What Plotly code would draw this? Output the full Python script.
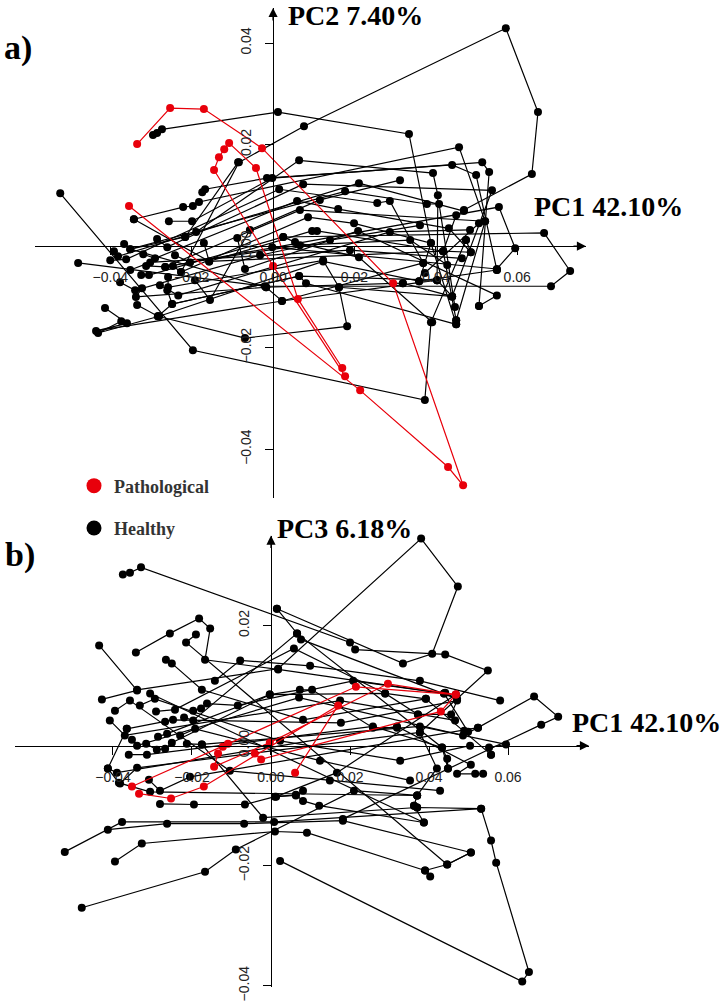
import plotly.graph_objects as go

# ---------------- Panel a) : PC1 vs PC2 ----------------
# Healthy trajectories (one subject per line, separated by None)
a_healthy_pc1 = [
    -0.0226, -0.0084, 0.0076, 0.0572, 0.0651, 0.0636, 0.0469, None,
    -0.0295, -0.0285, -0.0273, 0.0012, 0.0334, 0.0388, 0.0450, None,
    -0.0523, -0.0197, 0.0373, 0.0388, 0.0474, None,
    -0.0479, -0.0020, 0.0683, 0.0730, 0.0666, 0.0025, None,
    -0.0342, -0.0221, -0.0197, -0.0182, 0.0457, 0.0521, 0.0450, None,
    -0.0174, -0.0167, -0.0015, 0.0440, 0.0499, 0.0550, None,
    -0.0256, -0.0199, -0.0002, 0.0514, 0.0531, 0.0506, None,
    -0.0216, -0.0189, 0.0064, 0.0393, 0.0405, 0.0403, None,
    -0.0285, -0.0260, 0.0074, 0.0538, 0.0440, 0.0319, None,
    -0.0366, -0.0351, 0.0177, 0.0378, 0.0408, 0.0447, None,
    -0.0391, -0.0381, 0.0211, 0.0469, 0.0450, 0.0418, None,
    -0.0400, -0.0361, 0.0015, 0.0256, 0.0287, 0.0369, None,
    -0.0319, -0.0290, 0.0059, 0.0160, 0.0432, 0.0486, None,
    -0.0312, -0.0265, 0.0066, 0.0521, 0.0506, 0.0373, None,
    -0.0246, -0.0226, 0.0086, 0.0199, 0.0388, 0.0359, None,
    -0.0170, -0.0157, 0.0096, 0.0108, 0.0418, 0.0450, None,
    -0.0088, -0.0069, 0.0209, 0.0550, 0.0506, None,
    -0.0324, -0.0305, 0.0025, 0.0054, 0.0211, 0.0391, None,
    -0.0258, -0.0258, 0.0123, 0.0162, 0.0440, None,
    -0.0260, -0.0248, 0.0064, 0.0081, 0.0450, None,
    -0.0322, -0.0337, -0.0017, 0.0022, 0.0403, None,
    -0.0334, -0.0283, -0.0069, 0.0182, 0.0162, None,
    -0.0373, -0.0430, -0.0280, 0.0123, 0.0359, 0.0550, None,
    -0.0413, -0.0359, -0.0435, 0.0022, 0.0369, None,
    -0.0265, 0.0555, 0.0595, 0.0550, -0.0002, None,
    -0.0086, -0.0216, -0.0351, -0.0017, 0.0319, None,
    -0.0342, -0.0157, 0.0418, 0.0486, 0.0474, None,
    -0.0283, -0.0248, 0.0064, 0.0403, 0.0440, None,
    -0.0351, -0.0302, 0.0189, 0.0464, None,
    -0.0241, -0.0204, 0.0066, 0.0337, 0.0428, None,
    -0.0278, -0.0233, 0.0287, 0.0484, None,
    -0.0376, -0.0339, -0.0032, 0.0140, 0.0361, None,
    -0.0192, -0.0155, -0.0057, 0.0115, 0.0312,
]
a_healthy_pc2 = [
    -0.0051, 0.0165, 0.0236, 0.0429, 0.0264, 0.0142, 0.0071, None,
    0.0219, 0.0223, 0.0230, 0.0264, 0.0221, 0.0006, -0.0154, None,
    0.0104, -0.0205, -0.0303, -0.0150, 0.0012, None,
    -0.0033, -0.0079, -0.0079, -0.0049, 0.0026, 0.0018, None,
    0.0053, 0.0077, 0.0079, 0.0087, 0.0195, 0.0049, -0.0146, None,
    0.0106, 0.0112, 0.0134, 0.0160, 0.0140, -0.0047, None,
    0.0049, 0.0049, 0.0134, 0.0165, 0.0146, -0.0118, None,
    0.0018, 0.0028, 0.0169, 0.0144, 0.0100, -0.0067, None,
    0.0014, -0.0002, 0.0122, 0.0110, -0.0099, -0.0073, None,
    0.0004, -0.0006, 0.0108, 0.0083, 0.0083, -0.0120, None,
    -0.0010, -0.0020, 0.0124, 0.0069, 0.0061, -0.0010, None,
    -0.0028, -0.0026, 0.0112, 0.0085, 0.0089, -0.0033, None,
    -0.0016, -0.0024, 0.0089, 0.0073, 0.0035, -0.0012, None,
    -0.0039, -0.0041, 0.0071, 0.0049, 0.0045, -0.0053, None,
    -0.0039, -0.0051, 0.0057, 0.0045, 0.0006, -0.0069, None,
    0.0006, -0.0030, 0.0030, 0.0030, -0.0010, -0.0146, None,
    0.0016, -0.0045, 0.0030, -0.0097, -0.0118, None,
    -0.0057, -0.0057, 0.0018, 0.0008, -0.0022, -0.0150, None,
    -0.0061, -0.0081, -0.0028, -0.0081, -0.0099, None,
    -0.0087, -0.0114, -0.0059, -0.0073, -0.0154, None,
    -0.0083, -0.0100, -0.0081, -0.0108, -0.0067, None,
    -0.0116, -0.0138, -0.0181, -0.0158, -0.0081, None,
    -0.0148, -0.0171, -0.0138, -0.0030, -0.0069, -0.0047, None,
    -0.0122, -0.0152, -0.0167, -0.0108, -0.0033, None,
    -0.0041, 0.0077, -0.0004, -0.0045, -0.0002, None,
    0.0165, 0.0018, -0.0006, -0.0081, -0.0073, None,
    0.0053, -0.0030, -0.0010, -0.0012, 0.0012, None,
    -0.0138, -0.0114, -0.0059, -0.0067, -0.0099, None,
    -0.0047, -0.0032, -0.0008, -0.0024, None,
    -0.0018, -0.0032, 0.0002, 0.0012, -0.0037, None,
    -0.0077, -0.0097, 0.0028, 0.0032, None,
    -0.0071, -0.0087, -0.0018, 0.0012, 0.0041, None,
    -0.0067, -0.0106, 0.0032, 0.0091, 0.0130,
]
# Pathological trajectories
a_patho_pc1 = [
    -0.0334, -0.0253, -0.0170, -0.0027, 0.0295, 0.0467, 0.0430, 0.0214, -0.0354, None,
    0.0177, 0.0000, -0.0145, -0.0133, -0.0120, -0.0108, -0.0042, 0.0061, 0.0170,
]
a_patho_pc2 = [
    0.0201, 0.0272, 0.0270, 0.0193, -0.0073, -0.0471, -0.0435, -0.0284, 0.0079, None,
    -0.0256, -0.0039, 0.0150, 0.0175, 0.0191, 0.0203, 0.0154, -0.0104, -0.0240,
]

# ---------------- Panel b) : PC1 vs PC3 ----------------
b_healthy_pc1 = [
    -0.0339, 0.0018, 0.0380, 0.0473, 0.0408, 0.0334, 0.0015, None,
    -0.0375, -0.0357, -0.0329, 0.0200, 0.0213, 0.0441, 0.0549, 0.0377, None,
    -0.0342, -0.0256, -0.0182, -0.0154, -0.0167, 0.0018, 0.0438, None,
    -0.0435, -0.0339, -0.0428, None,
    -0.0266, -0.0251, -0.0175, 0.0081, 0.0392, None,
    -0.0365, -0.0268, -0.0248, 0.0177, 0.0471, 0.0456, 0.0372, None,
    -0.0220, -0.0197, 0.0066, 0.0076, 0.0471, 0.0441, None,
    -0.0291, -0.0243, 0.0058, 0.0289, 0.0392, 0.0557, None,
    -0.0197, -0.0177, -0.0162, -0.0084, 0.0208, 0.0438, 0.0499, None,
    -0.0286, -0.0263, -0.0003, 0.0073, 0.0104, 0.0258, 0.0319, None,
    -0.0352, -0.0339, 0.0071, 0.0486, 0.0524, 0.0666, 0.0727, 0.0684, 0.0182, None,
    -0.0316, -0.0289, -0.0268, -0.0251, -0.0003, 0.0289, 0.0372, None,
    -0.0213, -0.0175, 0.0377, 0.0595, 0.0552, 0.0557, None,
    -0.0360, -0.0314, 0.0258, 0.0433, 0.0446, 0.0448, None,
    -0.0413, -0.0390, 0.0319, 0.0506, 0.0471, 0.0517, 0.0537, None,
    -0.0382, -0.0339, 0.0377, 0.0420, 0.0370, None,
    -0.0309, -0.0281, -0.0205, 0.0489, 0.0524, None,
    -0.0365, -0.0413, -0.0385, -0.0306, 0.0370, 0.0362, 0.0370, None,
    -0.0281, -0.0195, -0.0066, 0.0010, 0.0063, 0.0081, 0.0122, 0.0387, None,
    -0.0522, -0.0377, 0.0008, 0.0532, 0.0557, 0.0570, 0.0653, 0.0636, 0.0023, None,
    -0.0413, -0.0263, -0.0068, 0.0182, 0.0506, 0.0446, 0.0390, 0.0403, None,
    -0.0395, -0.0327, 0.0010, 0.0091, 0.0390, None,
    -0.0479, -0.0167, -0.0089, 0.0210, 0.0370, None,
    0.0015, 0.0066, 0.0433, 0.0448, None,
    -0.0190, -0.0215, 0.0446, 0.0506, None,
    -0.0306, 0.0387, 0.0362, None,
    0.0081, 0.0063, 0.0013, 0.0167, 0.0468, None,
    -0.0175, -0.0020, 0.0370, 0.0532, None,
    -0.0408, -0.0370, 0.0175, 0.0466, None,
    -0.0332, -0.0294, 0.0023, 0.0327, 0.0504, None,
    -0.0230, -0.0192, 0.0124, 0.0352, None,
    -0.0395, -0.0357, -0.0104, 0.0149, 0.0428, None,
    -0.0142, -0.0078, 0.0099, 0.0377, 0.0580,
]
b_healthy_pc3 = [
    0.0093, 0.0128, 0.0345, 0.0265, 0.0153, 0.0137, 0.0228, None,
    0.0285, 0.0288, 0.0297, 0.0172, 0.0160, 0.0152, 0.0125, 0.0022, None,
    0.0155, 0.0187, 0.0212, 0.0195, 0.0143, 0.0127, 0.0087, None,
    0.0167, 0.0092, 0.0077, None,
    0.0143, 0.0137, 0.0093, 0.0043, 0.0078, None,
    0.0028, 0.0040, 0.0043, 0.0038, 0.0075, 0.0052, 0.0052, None,
    0.0047, 0.0042, 0.0187, 0.0177, 0.0078, 0.0088, None,
    0.0057, 0.0060, 0.0162, 0.0087, 0.0078, -0.0015, None,
    0.0058, 0.0062, 0.0070, 0.0067, 0.0108, 0.0087, 0.0023, None,
    0.0015, 0.0020, 0.0085, 0.0093, 0.0093, 0.0030, 0.0030, None,
    0.0010, 0.0000, 0.0080, 0.0017, 0.0030, 0.0082, 0.0048, 0.0035, -0.0122, None,
    0.0003, -0.0007, -0.0005, 0.0005, 0.0085, 0.0087, 0.0052, None,
    0.0003, 0.0002, 0.0032, 0.0002, -0.0003, -0.0015, None,
    -0.0015, -0.0015, 0.0032, -0.0003, -0.0022, -0.0038, None,
    -0.0038, -0.0045, 0.0032, -0.0032, -0.0047, -0.0047, -0.0047, None,
    -0.0063, -0.0037, 0.0022, -0.0038, -0.0083, None,
    -0.0057, -0.0075, -0.0052, 0.0025, 0.0030, None,
    0.0028, -0.0038, -0.0062, -0.0077, -0.0083, -0.0100, -0.0103, None,
    -0.0097, -0.0098, -0.0098, -0.0085, -0.0082, -0.0092, -0.0100, -0.0128, None,
    -0.0177, -0.0127, -0.0127, -0.0105, -0.0158, -0.0195, -0.0377, -0.0393, -0.0192, None,
    -0.0140, -0.0130, -0.0130, -0.0125, -0.0178, -0.0198, -0.0208, -0.0218, None,
    -0.0193, -0.0163, -0.0143, -0.0145, -0.0208, None,
    -0.0270, -0.0210, -0.0173, -0.0075, -0.0083, None,
    0.0228, 0.0187, -0.0003, -0.0038, None,
    0.0185, 0.0172, -0.0198, -0.0178, None,
    0.0087, -0.0128, -0.0100, None,
    -0.0075, -0.0083, -0.0085, -0.0045, 0.0085, None,
    0.0002, -0.0120, -0.0103, -0.0105, None,
    0.0042, 0.0017, 0.0075, 0.0042, None,
    0.0067, 0.0078, 0.0008, -0.0025, 0.0000, None,
    0.0017, 0.0028, -0.0025, -0.0058, None,
    0.0058, 0.0075, -0.0042, -0.0058, -0.0075, None,
    0.0108, 0.0142, 0.0133, 0.0108, 0.0075,
]
b_patho_pc1 = [
    -0.0352, -0.0122, -0.0109, 0.0215, 0.0468, 0.0430, -0.0025, -0.0041, None,
    -0.0334, -0.0253, -0.0170, 0.0170, 0.0061, None,
    -0.0134, -0.0144, -0.0003, 0.0296, 0.0468,
]
b_patho_pc3 = [
    -0.0068, -0.0002, 0.0003, 0.0098, 0.0085, 0.0057, -0.0023, -0.0013, None,
    -0.0080, -0.0088, -0.0068, 0.0067, -0.0045, None,
    -0.0013, -0.0035, 0.0005, 0.0103, 0.0085,
]

tick_vals_x = [-0.04, -0.02, 0.0, 0.02, 0.04, 0.06]
tick_vals_ya = [-0.04, -0.02, 0.0, 0.02, 0.04]
tick_vals_yb = [-0.04, -0.02, 0.0, 0.02]

BLACK = "black"
RED = "#e8000b"
W = 727
H_REF = 1008      # layout reference height
H = 1023          # rendered figure height

fig = go.Figure()

def add_paths(x, y, color, xa, ya):
    fig.add_trace(go.Scatter(
        x=x, y=y, mode="lines+markers", xaxis=xa, yaxis=ya,
        line=dict(color=color, width=1.2),
        marker=dict(color=color, size=8),
        showlegend=False, hoverinfo="skip", cliponaxis=False,
    ))

add_paths(a_healthy_pc1, a_healthy_pc2, BLACK, "x", "y")
add_paths(a_patho_pc1, a_patho_pc2, RED, "x", "y")
add_paths(b_healthy_pc1, b_healthy_pc3, BLACK, "x2", "y2")
add_paths(b_patho_pc1, b_patho_pc3, RED, "x2", "y2")

# legend entries
fig.add_trace(go.Scatter(x=[None], y=[None], mode="markers", name="Pathological",
                         marker=dict(color=RED, size=15), legendgroup="p"))
fig.add_trace(go.Scatter(x=[None], y=[None], mode="markers", name="Healthy",
                         marker=dict(color=BLACK, size=15), legendgroup="h"))

tickfont = dict(family="Liberation Sans, Arial, sans-serif", size=14, color="#222")

def px_x(p):
    return p / W

def px_y(p):
    return 1 - p / H_REF

common_x = dict(showgrid=False, zeroline=False, showline=True, linecolor="black",
                linewidth=1.3, ticks="outside", ticklen=8, tickwidth=1.2, tickcolor="black",
                tickvals=tick_vals_x, tickformat=".2f", tickfont=tickfont,
                ticklabelstandoff=10, anchor="free")
common_y = dict(showgrid=False, zeroline=False, showline=True, linecolor="black",
                linewidth=1.3, ticks="outside", ticklen=8, tickwidth=1.2, tickcolor="black",
                tickformat=".2f", tickfont=tickfont, tickangle=-90,
                ticklabelstandoff=8, anchor="free")

xa_range = [-0.0585, 0.0769]
ya_range = [-0.0497, 0.0469]
xb_range = [-0.0648, 0.0805]
yb_range = [-0.0402, 0.0350]

fig.update_layout(
    width=W, height=H, autosize=False,
    margin=dict(l=0, r=0, t=0, b=0),
    paper_bgcolor="white", plot_bgcolor="white",
    xaxis=dict(common_x, domain=[px_x(35), px_x(586)], range=xa_range,
               position=px_y(246)),
    yaxis=dict(common_y, domain=[px_y(498), px_y(8)], range=ya_range,
               tickvals=tick_vals_ya, position=px_x(273)),
    xaxis2=dict(common_x, domain=[px_x(15), px_x(589)], range=xb_range,
                position=px_y(745)),
    yaxis2=dict(common_y, domain=[px_y(986), px_y(535)], range=yb_range,
                tickvals=tick_vals_yb, position=px_x(271)),
    showlegend=True,
    legend=dict(x=px_x(74), y=px_y(467), xanchor="left", yanchor="top",
                bgcolor="rgba(0,0,0,0)", tracegroupgap=16,
                font=dict(family="Liberation Serif, Times New Roman, serif",
                          size=18, color="#333", weight="bold")),
)

serif = "Liberation Serif, Times New Roman, serif"
def label(text, x, y, size=28):
    fig.add_annotation(text="<b>%s</b>" % text, x=px_x(x), y=px_y(y),
                       xref="paper", yref="paper", xanchor="left", yanchor="middle",
                       showarrow=False, font=dict(family=serif, size=size, color="black"))

label("PC2 7.40%", 286, 15)
label("PC1 42.10%", 532, 206)
label("a)", 2, 48, 34)
label("b)", 3, 554, 34)
label("PC3 6.18%", 275, 528)
label("PC1 42.10%", 570, 722)

def arrow(xref, yref, x, y, ax, ay):
    fig.add_annotation(x=x, y=y, xref=xref, yref=yref, ax=ax, ay=ay,
                       axref="pixel", ayref="pixel", text="", showarrow=True,
                       arrowhead=2, arrowsize=1.4, arrowwidth=1.3, arrowcolor="black")

arrow("x", "y", xa_range[1], 0, -14, 0)
arrow("x", "y", 0, ya_range[1], 0, 14)
arrow("x2", "y2", xb_range[1], 0, -14, 0)
arrow("x2", "y2", 0, yb_range[1], 0, 14)

fix_page = (
    "document.documentElement.style.margin='0';"
    "document.body.style.margin='0';"
    "document.body.style.overflow='hidden';"
    "var gd=document.getElementById('{plot_id}');"
    "gd.style.position='absolute';gd.style.left='0px';gd.style.top='0px';"
)
fig.write_html("out.html", post_script=fix_page,
               config={"displayModeBar": False, "responsive": False})
